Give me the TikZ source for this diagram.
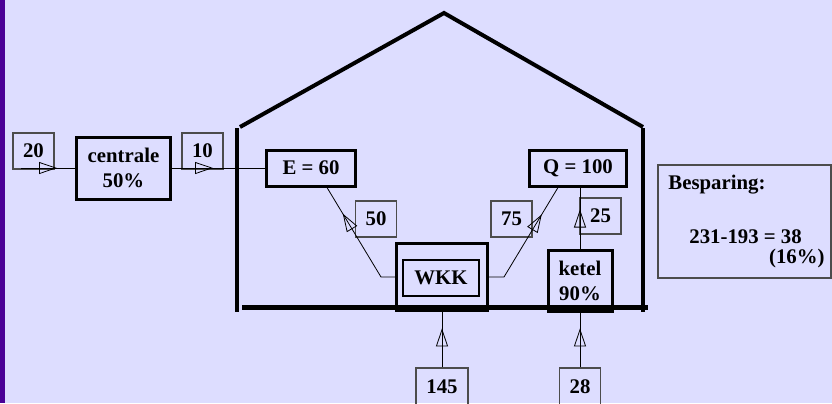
\documentclass[tikz,border=0pt]{standalone}
\usepackage{fontspec}
\setmainfont{Liberation Serif}
\usetikzlibrary{arrows.meta,positioning,calc,decorations.markings}
\definecolor{bgblue}{RGB}{221,221,255}
\definecolor{barpurple}{RGB}{75,0,150}

\begin{document}
\begin{tikzpicture}[
		x=0.5pt, y=-0.5pt,
		font=\fontsize{10.4}{12.5}\selectfont\bfseries,
		> = {Triangle[open,length=9pt,width=6pt]},
		unit/.style = {draw, line width=1.5pt, align=center, inner sep=0pt},
		val/.style = {draw=black!70, line width=0.6pt, minimum width=20.5pt, minimum height=18pt, inner sep=0pt},
		wall/.style = {line width=2pt},
		tip at/.style = {postaction={decorate}, decoration={markings, mark=at position #1 with {\arrow{>}}}}
		]
		\fill[bgblue] (0,0) rectangle (832,403);
		\useasboundingbox (0,0) rectangle (832,403);
		\fill[barpurple] (0,0) rectangle (5,403);
		% house
		\draw[wall] (240,127) -- (444,13) -- (643,127);
		\draw[wall] (237,128) -- (237,312);
		\draw[wall] (643,128) -- (643,312);
		\draw[line width=2.5pt] (242,307) -- (648,307);
		% units
		\node[val] (v20) at (33.5,151) {20};
		\node[unit, minimum width=47pt, minimum height=31pt] (centrale) at (123.5,168) {centrale\\50\%};
		\node[val] (v10) at (202.5,151) {10};
		\node[unit, minimum width=44.5pt, minimum height=18pt] (E) at (311,168) {E = 60};
		\node[unit, minimum width=48.5pt, minimum height=18pt] (Q) at (578,168) {Q = 100};
		\node[val] (v50) at (376,219) {50};
		\node[val] (v75) at (511.5,219) {75};
		\node[val] (v25) at (600.5,216) {25};
		\node[unit, minimum width=45.5pt, minimum height=33.5pt] (wkk) at (442,277) {};
		\node[draw, line width=1pt, minimum width=38pt, minimum height=18pt, inner sep=0pt] (wkkin) at (441,277.5) {WKK};
		\node[unit, minimum width=32pt, minimum height=30.5pt] (ketel) at (580,280.5) {ketel\\90\%};
		\node[val, minimum width=26pt, minimum height=19pt] (v145) at (442,387) {145};
		\node[val, minimum height=19pt] (v28) at (580,387) {28};
		% savings
		\node[draw=black!70, line width=0.6pt, minimum width=86.5pt, minimum height=56.5pt] (besp) at (744.5,221.5) {};
		\node[anchor=west, inner sep=0pt] (bhead) at (668,185) {Besparing:};
		\node[anchor=west, inner sep=0pt] (bcalc) at (689,237) {231-193 = 38};
		\node[anchor=east, inner sep=0pt] (bpct) at (825,258) {(16\%)};
		% flows
		\coordinate (src) at (21,168);
		\draw[tip at=18pt] (src) -- (centrale.west);
		\draw[tip at=20.5pt] (centrale.east) -- (E.west);
		\draw[tip at=44pt] (wkk.west) -- ++(-14,0) -- ($(E.south)+(16,0)$);
		\draw[tip at=44pt] (wkk.east) -- ++(15,0) -- ($(Q.south)+(-20,0)$);
		\draw[tip at=19.5pt] (ketel.north) -- (ketel.north |- Q.south);
		\draw[tip at=19.5pt] (v145.north) -- (wkk.south);
		\draw[tip at=19.5pt] (v28.north) -- (ketel.south);
\end{tikzpicture}
\end{document}
